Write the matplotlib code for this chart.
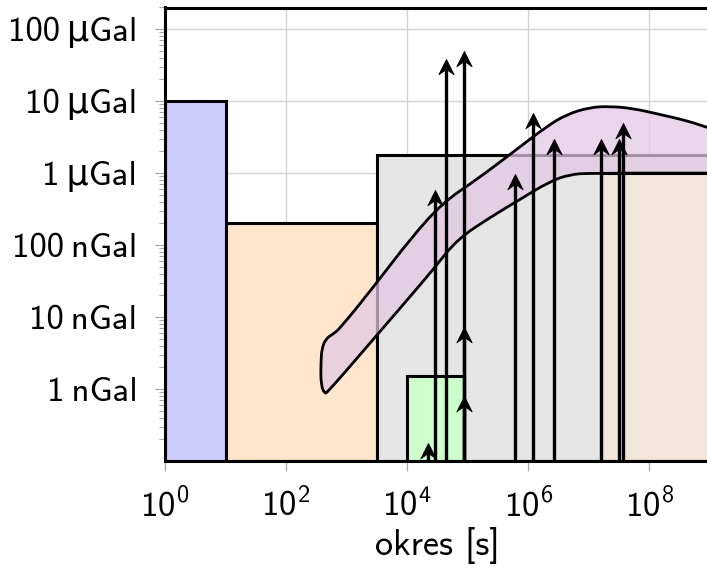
import matplotlib
matplotlib.use("Agg")
import matplotlib.pyplot as plt
from matplotlib.path import Path
from matplotlib.patches import PathPatch
from matplotlib.ticker import LogLocator, NullLocator, NullFormatter

# boxes: period range [s] and amplitude top [nGal]
box_left = [1, 10, 10**3.5, 1e4, 1.6e7]
box_right = [10, 10**3.5, 1e10, 86400, 1e10]
box_top = [1e4, 200, 1800, 1.5, 1000]
box_color = ["#ccccff", "#ffe5cc", "#e5e5e5", "#ccffcc", "#f2e5d9"]
box_zorder = [2, 2, 2, 3, 3]

# purple band outline: upper edge (left cap first), then lower edge right->left
band_upper_T = [437, 375, 375, 390, 454, 592, 773, 3150, 1.1e4, 3.86e4, 1.41e5,
                5.53e5, 2.01e6, 4.31e6, 1.03e7, 2.2e7, 5.28e7, 1.47e8, 4.6e8,
                9.84e8, 1.6e9]
band_upper_A = [0.85, 1.14, 2.3, 3.7, 5.0, 5.8, 6.9, 30, 119, 390, 815,
                1940, 4460, 6550, 8200, 8470, 7940, 6550, 5240, 4180, 3800]
band_lower_T = [1.6e9, 1e9, 1.03e7, 4.82e6, 2.25e6, 7.21e5, 2.31e5, 6.58e4,
                2.64e4, 1.1e4, 3150, 773, 490]
band_lower_A = [1000, 1000, 1000, 957, 764, 429, 241, 119, 45, 19, 5.6, 1.42, 0.93]

# tidal lines: period [s] and amplitude [nGal]
arrow_T = [2.2e4, 2.85e4, 4.3e4, 8.5e4, 8.5e4, 8.5e4, 6.1e5, 1.21e6, 2.65e6,
           1.6e7, 3.14e7, 3.66e7]
arrow_A = [0.18, 590, 39000, 50000, 7.2, 0.79, 980, 6900, 3000, 3000, 3000, 5000]

yticks = [1, 10, 100, 1e3, 1e4, 1e5]
ylabels = ["1\u2009nGal", "10\u2009nGal", "100\u2009nGal",
           "1\u2009\u03bcGal", "10\u2009\u03bcGal", "100\u2009\u03bcGal"]
xticks = [1, 1e2, 1e4, 1e6, 1e8]
xlabels = [r"$10^{0}$", r"$10^{2}$", r"$10^{4}$", r"$10^{6}$", r"$10^{8}$"]

plt.rcParams["font.family"] = ["cmss10", "DejaVu Sans"]
plt.rcParams["mathtext.fontset"] = "custom"
plt.rcParams["mathtext.rm"] = "cmss10"
plt.rcParams["mathtext.it"] = "cmss10"
plt.rcParams["axes.unicode_minus"] = False

YMIN, YMAX = 0.1, 2e5

fig = plt.figure(figsize=(7.07, 5.68), dpi=100)
ax = fig.add_axes([165 / 707, 107 / 568, 545 / 707, 453.5 / 568])
ax.set_xscale("log")
ax.set_yscale("log")
ax.set_xlim(1, 1e9)
ax.set_ylim(YMIN, YMAX)
ax.set_axisbelow(True)
ax.grid(True, which="major", color="#d4d4d4", lw=1.0)

for l, r, t, c, z in zip(box_left, box_right, box_top, box_color, box_zorder):
    ax.bar(l, t - YMIN, width=r - l, bottom=YMIN, align="edge",
           color=c, edgecolor="k", lw=2.2, zorder=z)


def smooth_closed(pts):
    # quadratic b-spline through the midpoints of the outline
    n = len(pts)
    mid = lambda a, b: ((a[0] * b[0]) ** 0.5, (a[1] * b[1]) ** 0.5)
    verts = [mid(pts[-1], pts[0])]
    codes = [Path.MOVETO]
    for i in range(n):
        verts += [pts[i], mid(pts[i], pts[(i + 1) % n])]
        codes += [Path.CURVE3, Path.CURVE3]
    return Path(verts, codes)


outline = list(zip(band_upper_T, band_upper_A)) + list(zip(band_lower_T, band_lower_A))
ax.add_patch(PathPatch(smooth_closed(outline), facecolor=(227 / 255, 200 / 255, 227 / 255, 0.73),
                       edgecolor="none", zorder=4))
ax.add_patch(PathPatch(smooth_closed(outline), facecolor="none",
                       edgecolor="k", lw=2.0, zorder=6))

# stealth-like arrow head, tip at the origin
stealth = Path([(0, 0), (0.5, -1), (0, -0.65), (-0.5, -1), (0, 0)],
               [Path.MOVETO, Path.LINETO, Path.LINETO, Path.LINETO, Path.CLOSEPOLY])
for T, A in zip(arrow_T, arrow_A):
    # stop the shaft a few pixels under the tip so the head stays pointed
    xd, yd = ax.transData.transform((T, A))
    top = ax.transData.inverted().transform((xd, yd - 9))[1]
    ax.plot([T, T], [YMIN, top], color="k", lw=2.4, solid_capstyle="butt", zorder=7)
    ax.plot([T], [A], marker=stealth, markersize=22, color="k", mew=0.6, zorder=7)

ax.set_xticks(xticks)
ax.set_xticklabels(xlabels)
ax.xaxis.set_minor_locator(NullLocator())
ax.set_yticks(yticks)
ax.set_yticklabels(ylabels)
ax.yaxis.set_minor_locator(LogLocator(base=10, subs=range(2, 10), numticks=20))
ax.yaxis.set_minor_formatter(NullFormatter())

ax.tick_params(which="major", direction="out", length=7, width=0.9, color="#a8a8a8",
               labelsize=25, pad=13)
ax.tick_params(which="minor", direction="out", length=4.5, width=0.8, color="#a8a8a8")

for s in ax.spines.values():
    s.set_color("k")
    s.set_linewidth(2.2)
    s.set_zorder(8)

ax.set_xlabel("okres [s]", fontsize=26, labelpad=2)

fig.savefig("out.png", dpi=100)
